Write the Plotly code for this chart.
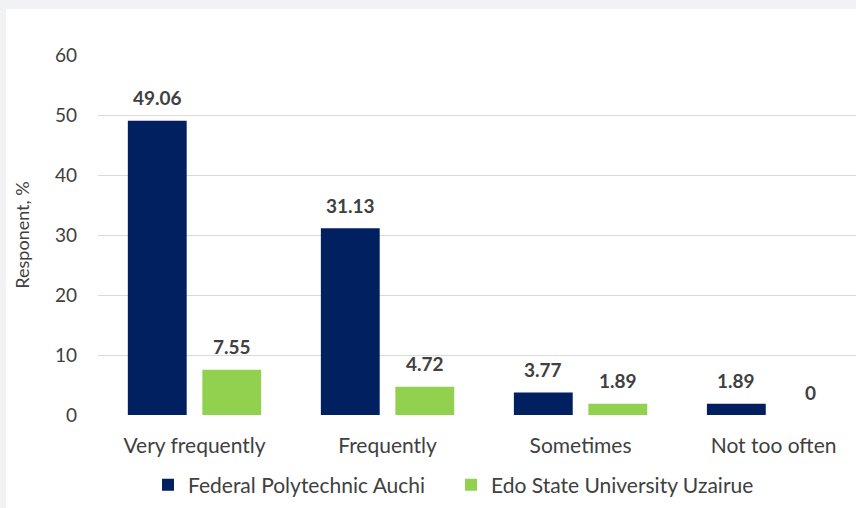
import plotly.graph_objects as go

categories = ["Very frequently", "Frequently", "Sometimes", "Not too often"]
series_names = ["Federal Polytechnic Auchi", "Edo State University Uzairue"]
fpa_values = [49.06, 31.13, 3.77, 1.89]
esu_values = [7.55, 4.72, 1.89, 0]
y_ticks = [0, 10, 20, 30, 40, 50, 60]

colors = ["#002060", "#92D050"]
FONT = "Lato"
TXT = "#404040"

BARGAP = 0.228
fig = go.Figure()
all_vals = [fpa_values, esu_values]
for name, vals, col in zip(series_names, all_vals, colors):
    fig.add_trace(go.Bar(x=categories, y=vals, name=name, marker=dict(color=col, line=dict(width=0))))

slot = (1 - BARGAP) / 2
annotations = []
for k, vals in enumerate(all_vals):
    off = (k - 0.5) * slot
    for i, v in enumerate(vals):
        annotations.append(dict(x=i + off, y=v, xref="x", yref="y", text=f"{v:g}",
                                showarrow=False, yshift=23,
                                font=dict(family=FONT, size=19, color=TXT, weight="bold")))

W, H = 856, 508
L, R, T, B = 98, 0, 55, 93
pw, ph = W - L - R, H - T - B

fig.update_layout(
    width=W, height=H,
    margin=dict(l=L, r=R, t=T, b=B, pad=0),
    paper_bgcolor="#F1F2F4",
    plot_bgcolor="rgba(0,0,0,0)",
    barmode="group", bargap=BARGAP, bargroupgap=0.21,
    font=dict(family=FONT, color=TXT),
    showlegend=True,
    legend=dict(orientation="h", x=(148 - L) / pw, xanchor="left", y=-(485 - (H - B)) / ph, yanchor="middle",
                font=dict(family=FONT, size=21, color=TXT), itemwidth=30, traceorder="normal",
                entrywidth=258, entrywidthmode="pixels",
                bgcolor="rgba(0,0,0,0)"),
    annotations=annotations,
    shapes=[dict(type="rect", xref="paper", yref="paper", layer="below",
                 x0=(6 - L) / pw, x1=1.0, y0=-(H - (H - B)) / ph, y1=((H - B) - 9) / ph,
                 fillcolor="white", line=dict(width=0))],
    xaxis=dict(range=[-0.5, 3.427], showgrid=False, zeroline=False,
               showline=False, ticks="", tickfont=dict(family=FONT, size=21, color=TXT),
               ticklabelstandoff=16),
    yaxis=dict(range=[0, 60], tickvals=y_ticks, showgrid=True, gridcolor="#D9D9D9", gridwidth=1.3,
               zeroline=False, showline=False, ticks="", tickfont=dict(family=FONT, size=19, color=TXT),
               ticklabelstandoff=20,
               title=dict(text="Responent, %", font=dict(family=FONT, size=18, color=TXT), standoff=20)),
)
fig.write_html("out.html", config={"displayModeBar": False},
               post_script="document.body.style.margin='0';document.body.style.padding='0';document.body.style.background='#F1F2F4';")
